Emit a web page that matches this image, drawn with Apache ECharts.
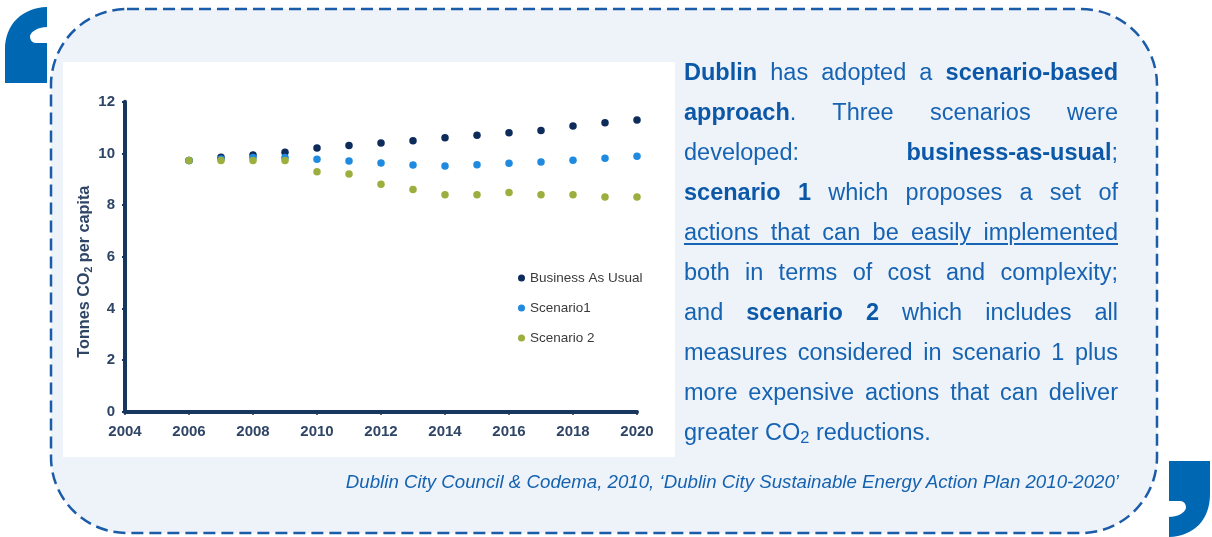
<!DOCTYPE html>
<html>
<head>
<meta charset="utf-8">
<script src="https://cdn.jsdelivr.net/npm/echarts@6/dist/echarts.min.js"></script>
<style>
  html, body { margin:0; padding:0; background:#ffffff; }
  #chart { position:absolute; left:0; top:0; width:1212px; height:537px; }
  #text { position:absolute; left:684px; top:52px; width:434px; font-family:'Liberation Sans', Arial, sans-serif;
          font-size:23.5px; line-height:40px; color:#1563B2; }
  #text .l { text-align:justify; text-align-last:justify; white-space:nowrap; }
  #text .last { text-align-last:left; }
  #text b { color:#0B58A8; }
  #text sub { font-size:0.7em; vertical-align:-0.2em; line-height:0; }
  #text u { text-decoration-thickness:1.5px; text-underline-offset:3px; }
  #cap { position:absolute; right:93px; top:471px; font-family:'Liberation Sans', Arial, sans-serif;
         font-style:italic; font-size:18.7px; line-height:22px; color:#1462B0; white-space:nowrap; }
</style>
</head>
<body>
<div id="chart"></div>
<div id="text">
  <div class="l"><b>Dublin</b> has adopted a <b>scenario-based</b></div>
  <div class="l"><b>approach</b>. Three scenarios were</div>
  <div class="l">developed: <b>business-as-usual</b>;</div>
  <div class="l"><b>scenario 1</b> which proposes a set of</div>
  <div class="l"><u>actions that can be easily implemented</u></div>
  <div class="l">both in terms of cost and complexity;</div>
  <div class="l">and <b>scenario 2</b> which includes all</div>
  <div class="l">measures considered in scenario 1 plus</div>
  <div class="l">more expensive actions that can deliver</div>
  <div class="l last">greater CO<sub>2</sub> reductions.</div>
</div>
<div id="cap">Dublin City Council &amp; Codema, 2010, ‘Dublin City Sustainable Energy Action Plan 2010-2020’</div>
<script>
const years = [2006, 2007, 2008, 2009, 2010, 2011, 2012, 2013, 2014, 2015, 2016, 2017, 2018, 2019, 2020];
const businessAsUsual = [9.72, 9.85, 9.94, 10.04, 10.21, 10.30, 10.40, 10.49, 10.60, 10.70, 10.80, 10.89, 11.06, 11.19, 11.29];
const scenario1 = [9.72, 9.78, 9.84, 9.84, 9.77, 9.70, 9.63, 9.55, 9.51, 9.56, 9.62, 9.67, 9.73, 9.81, 9.89];
const scenario2 = [9.72, 9.72, 9.72, 9.72, 9.29, 9.20, 8.80, 8.60, 8.40, 8.40, 8.49, 8.40, 8.40, 8.31, 8.31];
const seriesNames = ['Business As Usual', 'Scenario1', 'Scenario 2'];
const xTicks = { min: 2004, max: 2020, step: 2 };
const yTicks = { min: 0, max: 12, step: 2 };

const pair = (vals) => years.map((y, i) => [y, vals[i]]);

const quotePath = 'M47,7 L47,27 C39,27 31,31 30,36 C30,40 32,43 36,43 L47,43 L47,83 L5,83 L5,50 C5,24 22,8 47,7 Z';
const quotePath2 = 'M1169,537 L1169,517 C1177,517 1185,513 1186,508 C1186,504 1184,501 1180,501 L1169,501 L1169,461 L1210,461 L1210,494 C1210,520 1194,536 1169,537 Z';
echarts.graphic.registerShape('quoteOpen', echarts.graphic.extendPath(quotePath, {}));
echarts.graphic.registerShape('quoteClose', echarts.graphic.extendPath(quotePath2, {}));

const axisColor = '#17375E';
const labelColor = '#2F4566';
const font = "'Liberation Sans', Arial, sans-serif";

const chart = echarts.init(document.getElementById('chart'), null, { renderer: 'canvas' });
chart.setOption({
  animation: false,
  backgroundColor: '#ffffff',
  graphic: [
    { type: 'rect', z: -10, shape: { x: 51, y: 9, width: 1106, height: 524, r: 76 },
      style: { fill: '#EEF3FA', stroke: '#1B5CA9', lineWidth: 2.5, lineDash: [12, 6] } },
    { type: 'rect', z: -9, shape: { x: 63, y: 62, width: 612, height: 395 }, style: { fill: '#ffffff' } },
    { type: 'quoteOpen', z: -8, style: { fill: '#0067B3' } },
    { type: 'quoteClose', z: -8, style: { fill: '#0067B3' } }
  ],
  grid: { left: 125, top: 101.7, width: 512, height: 310, containLabel: false },
  legend: {
    orient: 'vertical', left: 513, top: 266, itemWidth: 7, itemHeight: 7, itemGap: 16,
    icon: 'circle', data: seriesNames,
    textStyle: { fontFamily: font, fontSize: 13.5, color: '#3A3A3A', lineHeight: 14 }
  },
  xAxis: {
    type: 'value', min: xTicks.min, max: xTicks.max, interval: xTicks.step,
    axisLine: { show: true, lineStyle: { color: axisColor, width: 4 } },
    axisTick: { show: true, length: 3, lineStyle: { color: axisColor, width: 2 } },
    splitLine: { show: false },
    axisLabel: { fontFamily: font, fontWeight: 'bold', fontSize: 15, color: labelColor, margin: 13,
                 formatter: (v) => String(v) }
  },
  yAxis: {
    type: 'value', min: yTicks.min, max: yTicks.max, interval: yTicks.step,
    name: 'Tonnes CO{sub|2} per capita', nameLocation: 'middle', nameGap: 29,
    nameTextStyle: { fontFamily: font, fontWeight: 'bold', fontSize: 16.2, color: labelColor,
                     padding: [0, 30, 0, 0],
                     rich: { sub: { fontFamily: font, fontWeight: 'bold', fontSize: 10.5, color: labelColor, padding: [8, 0, 0, 0] } } },
    axisLine: { show: true, lineStyle: { color: axisColor, width: 4 } },
    axisTick: { show: true, length: 3, lineStyle: { color: axisColor, width: 2 } },
    splitLine: { show: false },
    axisLabel: { fontFamily: font, fontWeight: 'bold', fontSize: 15, color: labelColor, margin: 10 }
  },
  series: [
    { name: seriesNames[0], type: 'scatter', symbolSize: 7.5, data: pair(businessAsUsual), itemStyle: { color: '#0D2B5B', opacity: 1 } },
    { name: seriesNames[1], type: 'scatter', symbolSize: 7.5, data: pair(scenario1), itemStyle: { color: '#1E8AE0', opacity: 1 } },
    { name: seriesNames[2], type: 'scatter', symbolSize: 7.5, data: pair(scenario2), itemStyle: { color: '#9BAF3E', opacity: 1 } }
  ]
});
</script>
</body>
</html>
